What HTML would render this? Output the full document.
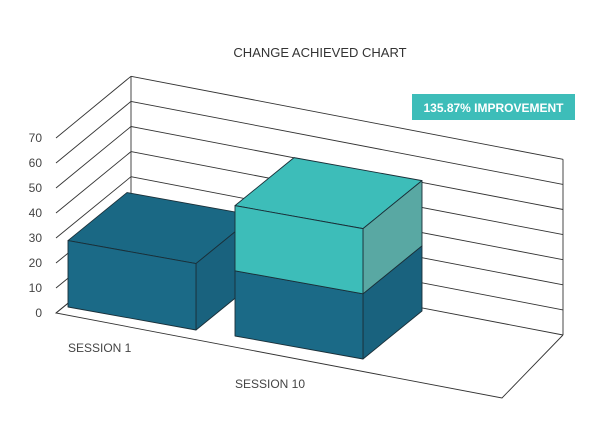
<!DOCTYPE html>
<html><head><meta charset="utf-8"><style>
body{margin:0;background:#fff;}
svg{display:block;font-family:"Liberation Sans",sans-serif;}
</style></head><body>
<svg id="chart" width="600" height="424" viewBox="0 0 600 424" xmlns="http://www.w3.org/2000/svg">
<text x="320" y="57" text-anchor="middle" font-size="13" fill="#333">CHANGE ACHIEVED CHART</text>
<g>
<rect x="412" y="94" width="163" height="26" fill="#3dbdb9"/>
<text x="493.5" y="112" text-anchor="middle" font-size="12" font-weight="bold" fill="#fff">135.87% IMPROVEMENT</text>
</g>
<g id="grid"></g><g id="bars"></g><g id="labels"></g>
</svg>
<script>
const categories=["SESSION 1","SESSION 10"];
const baseValues=[27,26.5];
const addedValues=[0,26.5];
const yTicks=[0,10,20,30,40,50,60,70];
const NS="http://www.w3.org/2000/svg";
function mk(tag,attrs,parent){const e=document.createElementNS(NS,tag);for(const k in attrs)e.setAttribute(k,attrs[k]);parent.appendChild(e);return e;}
const grid=document.getElementById('grid'),bars=document.getElementById('bars'),labels=document.getElementById('labels');
const frontY=v=>313-2.5*v, backY=v=>252-2.51*v;
const st={stroke:"#333","stroke-width":"0.9",fill:"none"};
let f=mk('polyline',Object.assign({points:"131,252 56,313 502,398 563,335"},st),grid);


yTicks.forEach(v=>{
 let g=mk('line',Object.assign({x1:131,y1:backY(v),x2:563,y2:backY(v)+83},st),grid);
 
 
 let d=mk('line',Object.assign({x1:56,y1:frontY(v),x2:131,y2:backY(v)},st),grid);
 
 
 let t=mk('text',{x:42,y:frontY(v)+4,"text-anchor":"end","font-size":"12",fill:"#444"},labels);
 t.textContent=v;
 
 
});
const topTick=yTicks[yTicks.length-1];
mk('line',Object.assign({x1:131,y1:backY(0),x2:131,y2:backY(topTick)},st),grid);
mk('line',Object.assign({x1:563,y1:backY(0)+83,x2:563,y2:backY(topTick)+83},st),grid);
const S=2.46,W=128,SL=23,DX=59,DY=-48;
function box(x,yb,h,cf,ct,cs,name){
 const g=mk('g',{},bars);
 
 
 const yt=yb-h, p=(a)=>a.map(q=>q.join(',')).join(' ');
 const ss={stroke:"#1a2f38","stroke-width":"0.9","stroke-linejoin":"round"};
 mk('polygon',Object.assign({points:p([[x,yt],[x+W,yt+SL],[x+W+DX,yt+SL+DY],[x+DX,yt+DY]]),fill:ct},ss),g);
 mk('polygon',Object.assign({points:p([[x+W,yb+SL],[x+W,yt+SL],[x+W+DX,yt+SL+DY],[x+W+DX,yb+SL+DY]]),fill:cs},ss),g);
 mk('polygon',Object.assign({points:p([[x,yb],[x+W,yb+SL],[x+W,yt+SL],[x,yt]]),fill:cf},ss),g);
}
categories.forEach((c,i)=>{
 const x=68+i*167, yb=307+i*29;
 const hb=baseValues[i]*S, ha=addedValues[i]*S;
 box(x,yb,hb,"#1b6a87","#1a6884","#19627e","bar-base-"+(i+1));
 if(ha>0) box(x,yb-hb,ha,"#3dbdb9","#3dbdb9","#59a8a3","bar-improvement-"+(i+1));
 const t=mk('text',{x:x,y:i===0?352:388,"font-size":"12",fill:"#444"},labels);
 t.textContent=c;
 
 
});
</script>
</body></html>
